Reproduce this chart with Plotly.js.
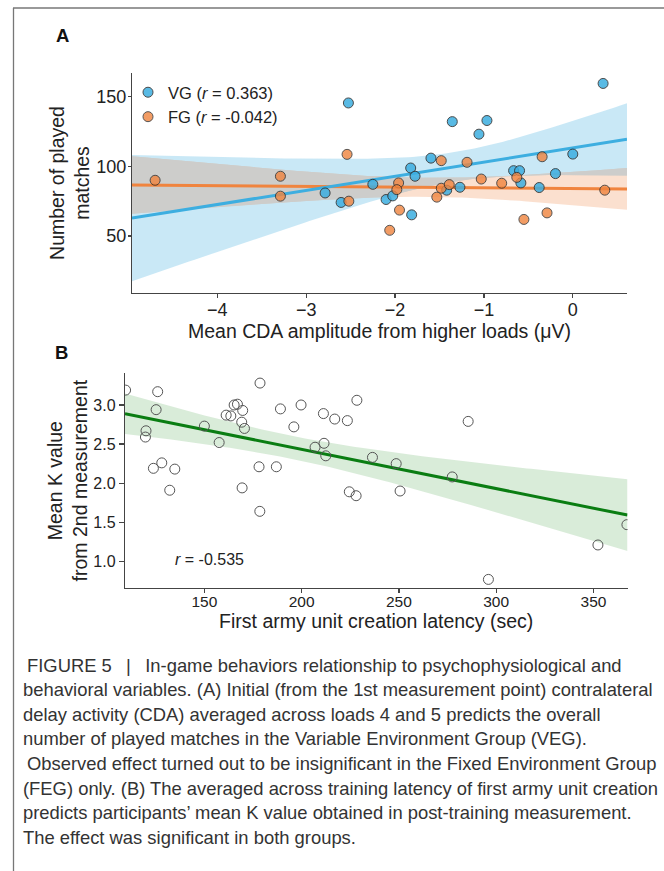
<!DOCTYPE html>
<html>
<head>
<meta charset="utf-8">
<script src="https://cdn.plot.ly/plotly-3.0.1.min.js"></script>
<style>html,body{margin:0;padding:0;background:#fff;}#chart{width:664px;height:871px;}</style>
</head>
<body>
<div id="chart"></div>
<script>
// ---- Panel A data: mean CDA amplitude (µV) vs number of played matches ----
const VG_X = [-2.525, -2.787, -2.607, -2.25, 0.341, -1.356, -0.966, -1.056, -1.596, 0.0, -1.824,
              -1.775, -0.666, -0.599, -0.195, -0.584, -1.27, -1.419, -0.378, -2.101, -2.026, -1.813];
const VG_Y = [145.5, 80.9, 74.1, 87.1, 159.5, 132.1, 132.9, 123.1, 105.9, 108.8, 98.8,
              92.9, 96.9, 96.9, 94.8, 88.1, 85.0, 82.9, 84.8, 76.2, 78.8, 65.2];
const FG_X = [-4.70, -3.29, -3.29, -2.54, -2.52, -1.48, -1.19, -0.345, -1.96, -1.98, -1.48,
              -1.39, -1.03, -0.80, -0.63, -1.53, -1.95, -2.06, -0.55, -0.29, 0.36];
const FG_Y = [90.0, 92.9, 78.6, 108.6, 75.0, 104.1, 102.9, 106.9, 88.1, 83.3, 84.3,
              86.9, 90.9, 87.9, 92.1, 77.9, 68.6, 54.1, 61.9, 66.6, 82.9];
const LEGEND_NAMES = ['VG (<i>r</i> = 0.363)', 'FG (<i>r</i> = -0.042)'];

// ---- Panel B data: first army unit creation latency (sec) vs mean K value ----
const K_LATENCY = [109.5, 126.0, 125.2, 120.0, 119.7, 123.8, 128.1, 134.8, 132.2, 150.0, 157.6,
                   161.2, 163.6, 165.3, 167.0, 169.7, 169.2, 170.6, 169.4, 178.6, 178.1, 178.5,
                   187.0, 189.1, 196.0, 199.7, 206.9, 211.2, 211.5, 212.4, 217.0, 223.5, 228.4,
                   224.5, 228.0, 236.4, 248.6, 250.6, 277.4, 285.6, 296.0, 352.3, 367.2];
const K_VALUE = [3.19, 3.17, 2.94, 2.67, 2.59, 2.19, 2.26, 2.18, 1.91, 2.73, 2.52,
                 2.87, 2.86, 3.00, 3.01, 2.93, 2.78, 2.70, 1.94, 3.28, 2.21, 1.64,
                 2.21, 2.95, 2.72, 3.00, 2.46, 2.89, 2.51, 2.35, 2.82, 2.80, 3.06,
                 1.89, 1.84, 2.33, 2.25, 1.90, 2.08, 2.79, 0.77, 1.21, 1.47];
const B_R_LABEL = '<i>r</i> = -0.535';

// ---- Tick labels / texts ----
const A_XTICKS = [-4, -3, -2, -1, 0];
const A_YTICKS = [50, 100, 150];
const B_XTICKS = [150, 200, 250, 300, 350];
const B_YTICKS = [1.0, 1.5, 2.0, 2.5, 3.0];
const CAPTION_LINES = [
  'FIGURE 5\u2002 |\u2002 In-game behaviors relationship to psychophysiological and',
  'behavioral variables. (A) Initial (from the 1st measurement point) contralateral',
  'delay activity (CDA) averaged across loads 4 and 5 predicts the overall',
  'number of played matches in the Variable Environment Group (VEG).',
  'Observed effect turned out to be insignificant in the Fixed Environment Group',
  '(FEG) only. (B) The averaged across training latency of first army unit creation',
  'predicts participants\u2019 mean K value obtained in post-training measurement.',
  'The effect was significant in both groups.'
];

// ---- Linear regression with 95% confidence band (like seaborn regplot) ----
function tQuant(df) {
  const z = 1.959964;
  return z + (z**3 + z) / (4*df) + (5*z**5 + 16*z**3 + 3*z) / (96*df*df)
           + (3*z**7 + 19*z**5 + 17*z**3 - 15*z) / (384*df**3);
}
function regBand(xs, ys, x0, x1) {
  const n = xs.length;
  const mx = xs.reduce((a,b)=>a+b,0)/n, my = ys.reduce((a,b)=>a+b,0)/n;
  let sxx = 0, sxy = 0;
  for (let i=0;i<n;i++){ sxx += (xs[i]-mx)**2; sxy += (xs[i]-mx)*(ys[i]-my); }
  const b = sxy/sxx, a = my - b*mx;
  let ssr = 0;
  for (let i=0;i<n;i++){ ssr += (ys[i]-a-b*xs[i])**2; }
  const s = Math.sqrt(ssr/(n-2)), t = tQuant(n-2);
  const gx = [], fit = [], lo = [], hi = [];
  const steps = 120;
  for (let k=0;k<=steps;k++){
    const x = x0 + (x1-x0)*k/steps;
    const yh = a + b*x;
    const h = t*s*Math.sqrt(1/n + (x-mx)**2/sxx);
    gx.push(x); fit.push(yh); lo.push(yh-h); hi.push(yh+h);
  }
  return {x: gx, fit, lo, hi};
}
function poly(x, lo, hi) {
  return {x: x.concat(x.slice().reverse()), y: hi.concat(lo.slice().reverse())};
}

const A_XR = [-4.96, 0.61], A_YR = [9.1, 167];
const B_XR = [109.2, 367.5], B_YR = [0.66, 3.405];

const vg = regBand(VG_X, VG_Y, A_XR[0], A_XR[1]);
const fg = regBand(FG_X, FG_Y, A_XR[0], A_XR[1]);
const kb = regBand(K_LATENCY, K_VALUE, B_XR[0], B_XR[1]);
// overlap of the two panel-A bands
const ovLo = [], ovHi = [];
for (let i=0;i<vg.x.length;i++){
  const l = Math.max(vg.lo[i], fg.lo[i]), h = Math.min(vg.hi[i], fg.hi[i]);
  ovLo.push(l); ovHi.push(Math.max(l, h));
}

const BLUE = '#3DAEE0', ORANGE = '#F0843E', GREEN = '#0A7D12';
const pV = poly(vg.x, vg.lo, vg.hi), pF = poly(fg.x, fg.lo, fg.hi), pO = poly(vg.x, ovLo, ovHi);
const pK = poly(kb.x, kb.lo, kb.hi);

const traces = [
  {x: pV.x, y: pV.y, xaxis:'x', yaxis:'y', mode:'lines', fill:'toself', line:{width:0}, fillcolor:'rgba(61,174,224,0.28)', hoverinfo:'skip', showlegend:false},
  {x: pF.x, y: pF.y, xaxis:'x', yaxis:'y', mode:'lines', fill:'toself', line:{width:0}, fillcolor:'rgba(240,132,62,0.25)', hoverinfo:'skip', showlegend:false},
  {x: pO.x, y: pO.y, xaxis:'x', yaxis:'y', mode:'lines', fill:'toself', line:{width:0}, fillcolor:'#CDCDCB', hoverinfo:'skip', showlegend:false},
  {x: fg.x, y: fg.fit, xaxis:'x', yaxis:'y', mode:'lines', line:{color:ORANGE, width:3}, showlegend:false},
  {x: vg.x, y: vg.fit, xaxis:'x', yaxis:'y', mode:'lines', line:{color:BLUE, width:3}, showlegend:false},
  {x: VG_X, y: VG_Y, xaxis:'x', yaxis:'y', mode:'markers', name: LEGEND_NAMES[0], legendrank:1,
   marker:{size:10, color:BLUE, opacity:0.85, line:{color:'#2b2b2b', width:1}}},
  {x: FG_X, y: FG_Y, xaxis:'x', yaxis:'y', mode:'markers', name: LEGEND_NAMES[1], legendrank:2,
   marker:{size:10, color:ORANGE, opacity:0.8, line:{color:'#2b2b2b', width:1}}},
  {x: pK.x, y: pK.y, xaxis:'x2', yaxis:'y2', mode:'lines', fill:'toself', line:{width:0}, fillcolor:'rgba(0,128,0,0.15)', hoverinfo:'skip', showlegend:false},
  {x: kb.x, y: kb.fit, xaxis:'x2', yaxis:'y2', mode:'lines', line:{color:GREEN, width:3}, showlegend:false},
  {x: K_LATENCY, y: K_VALUE, xaxis:'x2', yaxis:'y2', mode:'markers', showlegend:false,
   marker:{symbol:'circle-open', size:10, color:'#555', line:{width:1}}}
];

const W = 664, H = 871;
const px = v => v / W, py = v => 1 - v / H;
const FONT = 'Liberation Sans, Arial, Helvetica, sans-serif';
const axisCommon = {showline:true, linecolor:'#444', linewidth:1.2, ticks:'outside', ticklen:4,
  tickcolor:'#444', tickwidth:1.2, showgrid:false, zeroline:false, color:'#222', fixedrange:true};

const annotations = [
  {text:'<b>A</b>', x:px(54), y:py(35), xref:'paper', yref:'paper', xanchor:'left', yanchor:'middle', showarrow:false, font:{size:18.5, color:'#111'}},
  {text:'<b>B</b>', x:px(53), y:py(352.5), xref:'paper', yref:'paper', xanchor:'left', yanchor:'middle', showarrow:false, font:{size:18.5, color:'#111'}},
  {text:B_R_LABEL, x:px(173), y:py(559), xref:'paper', yref:'paper', xanchor:'left', yanchor:'middle', showarrow:false, font:{size:16, color:'#222'}}
];
CAPTION_LINES.forEach((t, i) => {
  annotations.push({text:t, x:px(i===0 ? 25 : (i===4 ? 25 : 21)), y:py(665 + i*24.6), xref:'paper', yref:'paper',
    xanchor:'left', yanchor:'middle', showarrow:false,
    font:{family:FONT, size:18.4, color:'#333'}});
});

const layout = {
  width:W, height:H, margin:{l:0, r:0, t:0, b:0}, paper_bgcolor:'#fff', plot_bgcolor:'rgba(0,0,0,0)',
  font:{family:FONT, color:'#222'},
  showlegend:true,
  legend:{x:px(128), y:py(75), xanchor:'left', yanchor:'top', bgcolor:'rgba(0,0,0,0)', font:{size:16.5, color:'#222'},
          itemwidth:30, tracegroupgap:0},
  xaxis: Object.assign({}, axisCommon, {domain:[px(132), px(627)], anchor:'y', range:A_XR, tickvals:A_XTICKS,
          tickfont:{size:18}, ticklabelstandoff:-4,
          title:{text:'Mean CDA amplitude from higher loads (μV)', font:{size:19.5}, standoff:0}}),
  yaxis: Object.assign({}, axisCommon, {domain:[py(293), py(73)], anchor:'x', range:A_YR, tickvals:A_YTICKS,
          tickfont:{size:18}, ticklen:3, ticklabelstandoff:-2,
          title:{text:'Number of played<br>matches', font:{size:19.5}, standoff:1}}),
  xaxis2: Object.assign({}, axisCommon, {domain:[px(125), px(627.5)], anchor:'y2', range:B_XR, tickvals:B_XTICKS,
          tickfont:{size:15.5}, ticklabelstandoff:-5,
          title:{text:'First army unit creation latency (sec)', font:{size:19.5}, standoff:5}}),
  yaxis2: Object.assign({}, axisCommon, {domain:[py(588), py(373.3)], anchor:'x2', range:B_YR, tickvals:B_YTICKS,
          tickformat:'.1f', tickfont:{size:16}, ticklen:5,
          title:{text:'Mean K value<br>from 2nd measurement', font:{size:19.5}, standoff:0}}),
  annotations,
  shapes:[
    {type:'line', xref:'paper', yref:'paper', x0:px(13), x1:1, y0:py(8), y1:py(8), line:{color:'#777', width:1.3}},
    {type:'line', xref:'paper', yref:'paper', x0:px(13.5), x1:px(13.5), y0:py(8), y1:0, line:{color:'#777', width:1.3}}
  ]
};

Plotly.newPlot('chart', traces, layout, {displayModeBar:false, staticPlot:true});
</script>
</body>
</html>
